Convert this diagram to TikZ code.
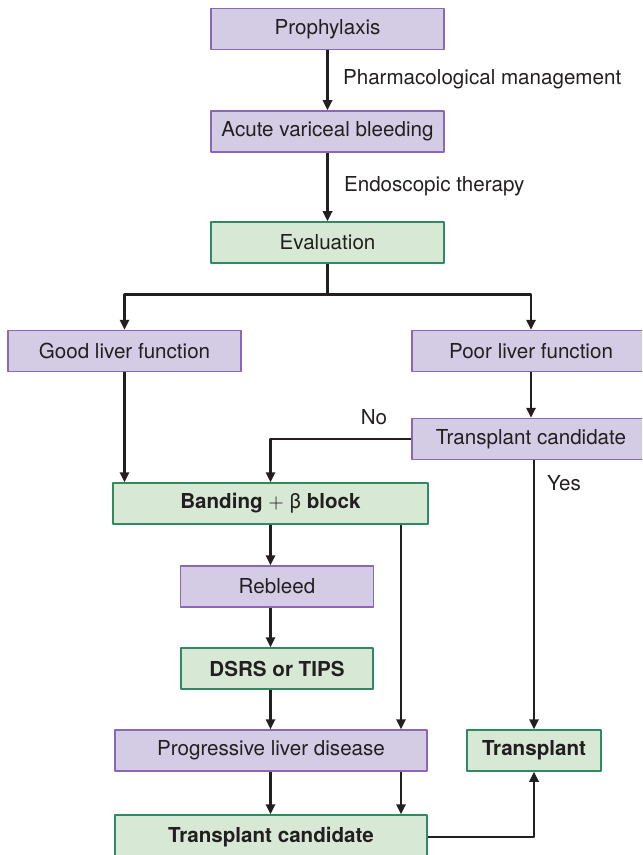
\documentclass[tikz,border=0pt]{standalone}
\usepackage{fontspec}
\setmainfont{TeX Gyre Heros}
\usetikzlibrary{arrows.meta}
\definecolor{lila}{HTML}{D4CBE4}
\definecolor{lilaborde}{HTML}{8C67B6}
\definecolor{verde}{HTML}{D7E9D4}
\definecolor{verdeborde}{HTML}{2F8A62}
\definecolor{tinta}{HTML}{231F20}

\begin{document}
\begin{tikzpicture}[x=0.5pt, y=-0.5pt, line join=round,
    font=\fontsize{10.3}{12}\selectfont,
    caja/.style={draw, line width=0.75pt, inner sep=0pt, minimum height=20.5pt, text=tinta},
    morada/.style={caja, fill=lila, draw=lilaborde},
    verdosa/.style={caja, fill=verde, draw=verdeborde},
    flecha/.style={draw=tinta, line width=1.45pt, -{Triangle[length=5pt, width=4.6pt]}},
    linea/.style={draw=tinta, line width=1.45pt}]
    % marco: 642 x 855 px, y hacia abajo
    \useasboundingbox (0,0) rectangle (642,855);
    \clip (0,0) rectangle (642,855);
    % cajas de arriba
    \node[morada, minimum width=116.5pt] (prof) at (327.5,29) {Prophylaxis};
    \node[morada, minimum width=116.5pt] (hem) at (327.5,131.5) {Acute variceal bleeding};
    \node[verdosa, minimum width=116.5pt] (eval) at (327.5,242.5) {Evaluation};
    % funcion hepatica
    \node[morada, minimum width=116.5pt] (good) at (124.5,351) {Good liver function};
    \node[morada, minimum width=119pt] (poor) at (531,351) {Poor liver function};
    \node[morada, minimum width=119pt] (cand) at (531,439) {Transplant candidate};
    % rama izquierda
    \node[verdosa, minimum width=157.5pt] (band) at (270.5,503.5) {\textbf{Banding} $+$ β \textbf{block}};
    \node[morada, minimum width=96.5pt] (reb) at (277,586.5) {Rebleed};
    \node[verdosa, minimum width=96pt] (dsrs) at (277,668.5) {\textbf{DSRS or TIPS}};
    \node[morada, minimum width=156pt] (prog) at (271,750.5) {Progressive liver disease};
    \node[verdosa, minimum width=156pt, minimum height=22pt] (cand2) at (271,837) {\textbf{Transplant candidate}};
    \node[verdosa, minimum width=67pt] (trans) at (534,750.5) {\textbf{Transplant}};
    \coordinate (bx) at (401,0);
    % textos de las flechas
    \node[anchor=west, text=tinta] (farm) at (336,79) {Pharmacological management};
    \node[anchor=west, text=tinta] (endo) at (337,186) {Endoscopic therapy};
    \node[text=tinta] (no) at (374,417) {No};
    \node[text=tinta] (yes) at (564,483) {Yes};
    % flechas
    \draw[flecha] (prof) -- (hem);
    \draw[flecha] (hem) -- (eval);
    \draw[linea] (eval.south) -- ++(0,31) coordinate (split);
    \draw[flecha] (split) -| (good.north);
    \draw[flecha] (split) -| (poor.north);
    \draw[flecha] (good.south) -- (good.south |- band.north);
    \draw[flecha] (poor) -- (cand);
    \draw[flecha] (cand.west) -| (band.north);
    \draw[flecha] (cand.south -| trans.north) -- (trans.north);
    \draw[flecha] (band.south) -- (band.south |- reb.north);
    \draw[flecha] (band.south |- reb.south) -- (band.south |- dsrs.north);
    \draw[flecha] (band.south |- dsrs.south) -- (band.south |- prog.north);
    \draw[flecha] (band.south -| bx) -- (prog.north -| bx);
    \draw[flecha] (band.south |- prog.south) -- (band.south |- cand2.north);
    \draw[flecha] (prog.south -| bx) -- (cand2.north -| bx);
    \draw[flecha] (cand2.east) -| (trans.south);
\end{tikzpicture}
\end{document}
